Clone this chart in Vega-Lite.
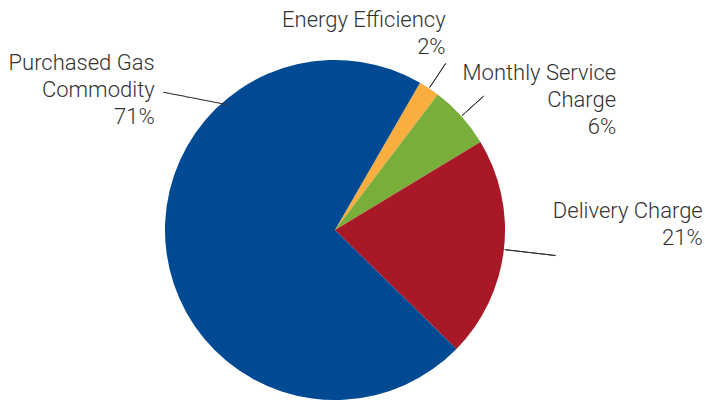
{
  "$schema": "https://vega.github.io/schema/vega-lite/v6.json",
  "width": 670,
  "height": 376,
  "autosize": "none",
  "padding": {"left": 0, "right": 35, "top": 42, "bottom": 0},
  "background": "white",
  "config": {"view": {"stroke": null}},
  "data": {
    "values": [
      {"category": "Energy Efficiency", "label": "Energy Efficiency\n2%", "value": 2, "order": 1},
      {"category": "Monthly Service Charge", "label": "Monthly Service\nCharge\n6%", "value": 6, "order": 2},
      {"category": "Delivery Charge", "label": "Delivery Charge\n21%", "value": 21, "order": 3},
      {"category": "Purchased Gas Commodity", "label": "Purchased Gas\nCommodity\n71%", "value": 71, "order": 4}
    ]
  },
  "encoding": {
    "theta": {"field": "value", "type": "quantitative", "stack": true, "scale": {"range": [0.5236, 6.8068]}},
    "order": {"field": "order", "type": "quantitative"}
  },
  "layer": [
    {
      "mark": {"type": "arc", "radius": 170},
      "encoding": {
        "color": {
          "field": "category",
          "type": "nominal",
          "scale": {
            "domain": ["Energy Efficiency", "Monthly Service Charge", "Delivery Charge", "Purchased Gas Commodity"],
            "range": ["#f9ae3f", "#7aae3a", "#a81826", "#004a93"]
          },
          "legend": null
        }
      }
    },
    {
      "mark": {"type": "arc", "radius": 200, "radius2": 171, "padAngle": 3, "fill": null, "fillOpacity": 0, "stroke": "#333333", "strokeWidth": 1},
      "encoding": {
        "strokeOpacity": {"condition": {"test": "datum.category === 'Energy Efficiency' || datum.category === 'Monthly Service Charge'", "value": 1}, "value": 0}
      }
    },
    {
      "mark": {"type": "arc", "radius": 222, "radius2": 171, "padAngle": 3, "fill": null, "fillOpacity": 0, "stroke": "#333333", "strokeWidth": 1},
      "encoding": {
        "strokeOpacity": {"condition": {"test": "datum.category === 'Delivery Charge'", "value": 1}, "value": 0}
      }
    },
    {
      "mark": {"type": "text", "radius": 182, "dx": 10, "dy": -161, "angle": 11, "align": "center", "baseline": "middle", "font": "DejaVu Sans", "fontSize": 12, "fill": "#333333"},
      "encoding": {
        "text": {"condition": {"test": "datum.category === 'Purchased Gas Commodity'", "value": "─────────"}, "value": ""}
      }
    },
    {
      "mark": {"type": "text", "radius": 236, "dx": -20, "dy": -13, "align": "right", "baseline": "middle", "lineBreak": "\n", "font": "Roboto", "fontWeight": 300, "fontSize": 22, "lineHeight": 27, "fill": "#333333"},
      "encoding": {
        "text": {"condition": {"test": "datum.category === 'Energy Efficiency'", "field": "label"}, "value": ""}
      }
    },
    {
      "mark": {"type": "text", "radius": 194, "dx": 137, "dy": -27, "align": "right", "baseline": "middle", "lineBreak": "\n", "font": "Roboto", "fontWeight": 300, "fontSize": 22, "lineHeight": 27, "fill": "#333333"},
      "encoding": {
        "text": {"condition": {"test": "datum.category === 'Monthly Service Charge'", "field": "label"}, "value": ""}
      }
    },
    {
      "mark": {"type": "text", "radius": 190, "dx": 179, "dy": -41, "align": "right", "baseline": "middle", "lineBreak": "\n", "font": "Roboto", "fontWeight": 300, "fontSize": 22, "lineHeight": 27, "fill": "#333333"},
      "encoding": {
        "text": {"condition": {"test": "datum.category === 'Delivery Charge'", "field": "label"}, "value": ""}
      }
    },
    {
      "mark": {"type": "text", "radius": 182, "dx": 0, "dy": -192, "align": "right", "baseline": "middle", "lineBreak": "\n", "font": "Roboto", "fontWeight": 300, "fontSize": 22, "lineHeight": 27, "fill": "#333333"},
      "encoding": {
        "text": {"condition": {"test": "datum.category === 'Purchased Gas Commodity'", "field": "label"}, "value": ""}
      }
    }
  ]
}
